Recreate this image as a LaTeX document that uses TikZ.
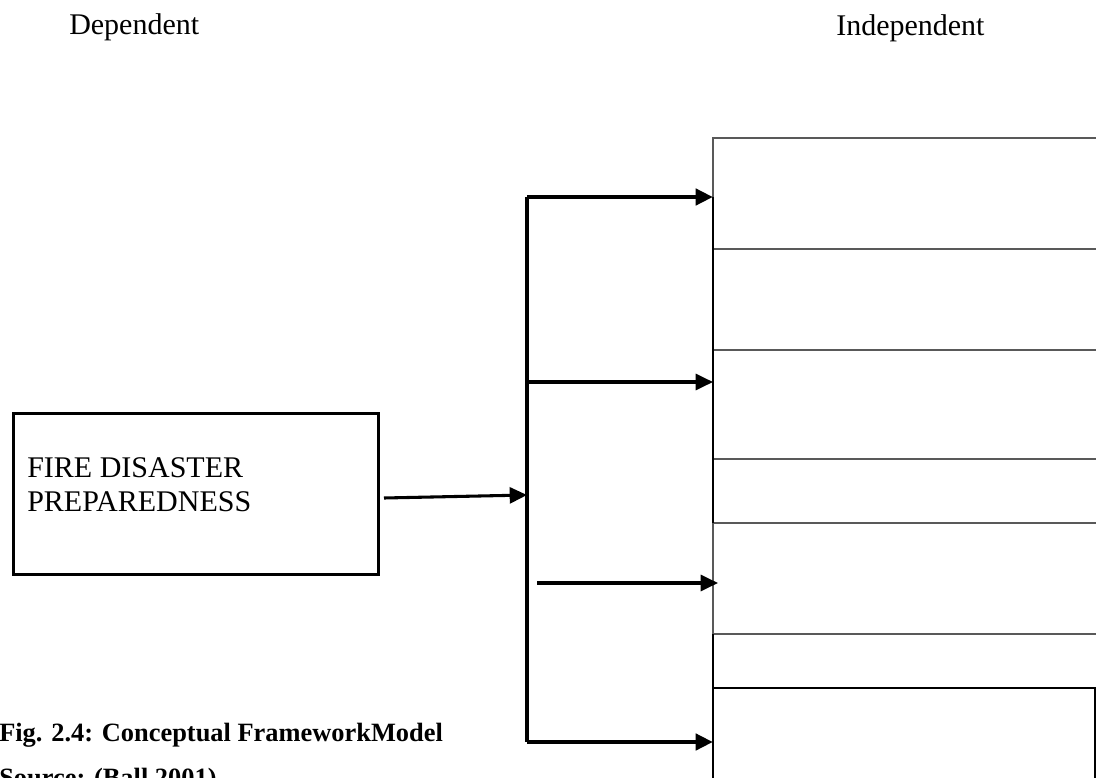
\documentclass[tikz,border=0pt]{standalone}
\usepackage{fontspec}
\setmainfont{Liberation Serif}
\usetikzlibrary{arrows.meta,calc}
\begin{document}
\begin{tikzpicture}[x=0.75pt,y=-0.75pt,
  cell/.style={draw=black!65, line width=1pt, anchor=north west, inner sep=0pt, outer sep=0pt},
  lbl/.style={font=\fontsize{22.5}{27}\selectfont, inner sep=0pt, anchor=base west},
  captext/.style={font=\fontsize{19.8}{23}\selectfont\bfseries, inner sep=0pt, anchor=base west},
  tip/.style={-{Triangle[length=13pt,width=12pt]}},
  heavy/.style={line width=3.4pt},
  mid/.style={line width=2.3pt}]
\useasboundingbox (0,0) rectangle (1096,778);
\clip (0,0) rectangle (1096,778);
% headings
\node[lbl] (dep) at (69,34) {Dependent};
\node[lbl] (indep) at (836,35) {Independent};
% right-hand cells
\node[cell, minimum width=315pt, minimum height=83.25pt] (b1) at (713,138) {};
\node[cell, minimum width=315pt, minimum height=75.75pt] (b2) at (713,249) {};
\node[cell, minimum width=315pt, minimum height=81.75pt] (b3) at (713,350) {};
\node[cell, minimum width=315pt, minimum height=48pt] (b4) at (713,459) {};
\node[cell, minimum width=315pt, minimum height=83.25pt] (b5) at (713,523) {};
\node[cell, minimum width=315pt, minimum height=40.5pt] (b6) at (713,634) {};
\node[cell, draw=black, minimum width=286.5pt, minimum height=84pt] (b7) at (713,688) {};
% thicker parts of the left edge
\coordinate (e1) at (713,197);
\draw[line width=2pt] (e1) -- (b4.south west);
\draw[line width=2pt] (b6.north west) -- (b6.south west);
% dependent box
\node[draw, line width=2.4pt, anchor=north west, inner sep=0pt, minimum width=273.75pt, minimum height=120.75pt] (fire) at (12,412) {};
\node[lbl] (t1) at (27,477) {FIRE DISASTER};
\node[lbl] (t2) at (27,511) {PREPAREDNESS};
% bracket and arrows
\coordinate (bt) at (527,197);
\coordinate (bm) at (527,382);
\coordinate (bf) at (527,495);
\coordinate (bb) at (527,742);
\coordinate (fs) at (384,498);
\coordinate (ls) at (537,583);
\coordinate (le) at (718,583);
\draw[line width=2.8pt] (bt) -- (bb);
\draw[heavy, tip] (bt) -- (b1.west |- bt);
\draw[heavy, tip] (bb) -- (b7.west |- bb);
\draw[mid, tip] (bm) -- (b3.west |- bm);
\draw[mid, tip] (fs) -- (bf);
\draw[mid, tip] (ls) -- (le);
% caption
\node[captext] (c1) at (-1,741) {Fig. 2.4: Conceptual FrameworkModel};
\node[captext] (c2) at (-1,786) {Source: (Ball 2001)};
\end{tikzpicture}
\end{document}
